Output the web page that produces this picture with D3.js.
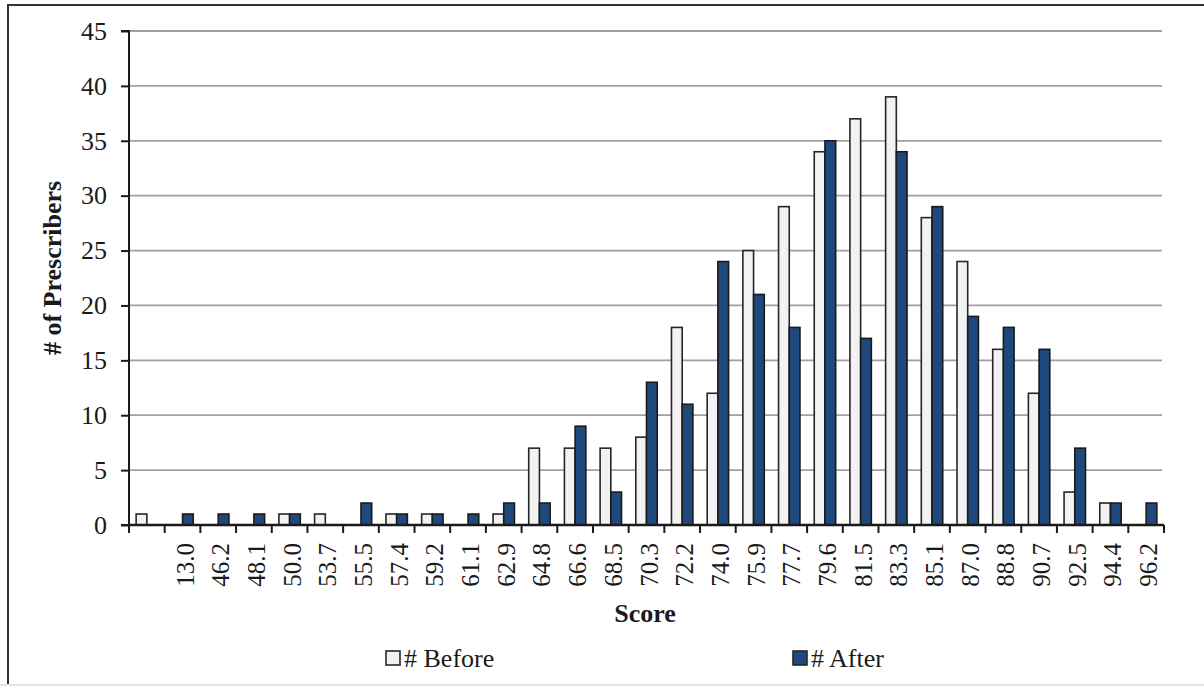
<!DOCTYPE html>
<html><head><meta charset="utf-8">
<script src="https://cdn.jsdelivr.net/npm/d3@7"></script>
<style>body{margin:0;background:#fff}svg{display:block}text{font-family:"Liberation Serif","Times New Roman",serif;fill:#1a1a1a}</style>
</head><body><svg id="c" width="1204" height="686"></svg>
<script>
const categories = ["", "13.0","46.2","48.1","50.0","53.7","55.5","57.4","59.2","61.1","62.9","64.8","66.6","68.5","70.3","72.2","74.0","75.9","77.7","79.6","81.5","83.3","85.1","87.0","88.8","90.7","92.5","94.4","96.2"];
const before = [1,0,0,0,1,1,0,1,1,0,1,7,7,7,8,18,12,25,29,34,37,39,28,24,16,12,3,2,0];
const after  = [0,1,1,1,1,0,2,1,1,1,2,2,9,3,13,11,24,21,18,35,17,34,29,19,18,16,7,2,2];
const yTicks = [0,5,10,15,20,25,30,35,40,45];
const seriesNames = ["# Before","# After"];

const svg = d3.select("#c");
const L = 129, R = 1164, T = 31, B = 525;
// frame
svg.append("rect").attr("x",8).attr("y",5).attr("width",1230).attr("height",700)
  .attr("fill","none").attr("stroke","#333").attr("stroke-width",2);
svg.append("line").attr("x1",0).attr("x2",1204).attr("y1",685).attr("y2",685)
  .attr("stroke","#e4e4e4").attr("stroke-width",2);

const x = d3.scaleBand().domain(d3.range(categories.length)).range([L,R]).paddingInner(0).paddingOuter(0);
const y = d3.scaleLinear().domain([0,45]).range([B,T]);
const bw = x.bandwidth()*0.3;

// gridlines
svg.append("g").selectAll("line").data(yTicks.filter(d=>d>0)).join("line")
  .attr("x1",L).attr("x2",R-2).attr("y1",d=>y(d)).attr("y2",d=>y(d))
  .attr("stroke","#a0a0a0").attr("stroke-width",1.8);

// bars
const g = svg.append("g");
g.selectAll("rect.b").data(before).join("rect").attr("class","b")
  .attr("x",(d,i)=>x(i)+x.bandwidth()/2-bw).attr("width",bw)
  .attr("y",d=>y(d)).attr("height",d=>B-y(d))
  .attr("fill","#f2f2f2").attr("stroke","#262626").attr("stroke-width",1.6)
  .style("display",d=>d>0?null:"none");
g.selectAll("rect.a").data(after).join("rect").attr("class","a")
  .attr("x",(d,i)=>x(i)+x.bandwidth()/2).attr("width",bw)
  .attr("y",d=>y(d)).attr("height",d=>B-y(d))
  .attr("fill","#1f497d").attr("stroke","#1a1a1a").attr("stroke-width",1.6)
  .style("display",d=>d>0?null:"none");

// y axis
const ya = svg.append("g").attr("transform",`translate(${L},0)`)
  .call(d3.axisLeft(y).tickValues(yTicks).tickSize(8).tickPadding(14));
ya.select(".domain").attr("stroke","#1a1a1a").attr("stroke-width",2).attr("d",`M-8,${T}H0V${B}H-8`);
ya.selectAll(".tick line").attr("stroke","#1a1a1a").attr("stroke-width",2);
ya.selectAll("text").style("font-size","26px").attr("fill","#1a1a1a");

// x axis
const xa = svg.append("g").attr("transform",`translate(0,${B})`);
xa.append("line").attr("x1",L).attr("x2",R).attr("y1",0).attr("y2",0).attr("stroke","#1a1a1a").attr("stroke-width",2.5);
xa.selectAll("line.t").data(d3.range(categories.length+1)).join("line").attr("class","t")
  .attr("x1",i=>i<categories.length?x(i):R).attr("x2",i=>i<categories.length?x(i):R)
  .attr("y1",0).attr("y2",8).attr("stroke","#1a1a1a").attr("stroke-width",2);
xa.selectAll("text").data(categories).join("text")
  .attr("transform",(d,i)=>`translate(${x(i)+x.bandwidth()/2+11},18) rotate(-90)`)
  .attr("text-anchor","end").style("font-size","25px").text(d=>d);

// axis titles
svg.append("text").attr("x",645).attr("y",622).attr("text-anchor","middle")
  .style("font-size","26px").attr("font-weight","bold").text("Score");
svg.append("text").attr("transform","translate(61,268) rotate(-90)").attr("text-anchor","middle")
  .style("font-size","26px").attr("font-weight","bold").text("# of Prescribers");

// legend
const leg = [{n:seriesNames[0],fill:"#f2f2f2",x:386},{n:seriesNames[1],fill:"#1f497d",x:793}];
const lg = svg.append("g").selectAll("g").data(leg).join("g").attr("transform",d=>`translate(${d.x},651)`);
lg.append("rect").attr("width",14).attr("height",14).attr("fill",d=>d.fill).attr("stroke","#262626").attr("stroke-width",1.6);
lg.append("text").attr("x",18).attr("y",16).style("font-size","26px").text(d=>d.n);
</script></body></html>
